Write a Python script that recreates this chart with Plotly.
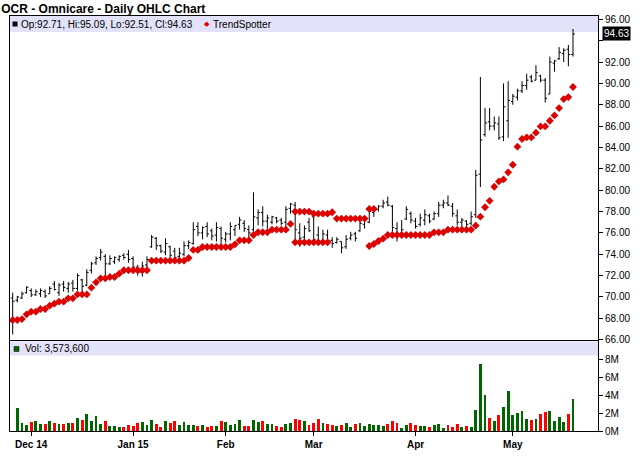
import pandas as pd
import plotly.graph_objects as go

# trading days 24 Nov 2014 .. 20 May 2015
holidays = ["2014-11-27", "2014-12-25", "2015-01-01", "2015-01-19", "2015-02-16", "2015-04-03"]
dates = pd.bdate_range("2014-11-24", "2015-05-20", freq="C", holidays=holidays).strftime("%Y-%m-%d").tolist()

month_ticks = ["2014-12-01", "2015-01-02", "2015-02-02", "2015-03-02", "2015-04-01", "2015-05-01"]
month_labels = ["Dec 14", "Jan 15", "Feb", "Mar", "Apr", "May"]

opens = [69.9, 69.7, 69.9, 70.4, 70.6, 70.2, 70.3, 70.5, 70.3, 71.2,
         70.4, 71.2, 70.8, 71.3, 70.8, 71.6, 71.1, 72.5, 73.2, 73.7,
         73.8, 73.1, 73.3, 73.5, 73.9, 74.0, 73.6, 72.8, 72.3, 73.0,
         74.7, 75.5, 74.8, 74.2, 74.7, 74.3, 73.8, 74.0, 74.8, 75.0,
         76.6, 76.0, 76.6, 76.2, 75.8, 76.4, 75.4, 75.9, 76.3, 76.8,
         76.9, 76.3, 76.3, 77.4, 77.9, 77.1, 77.0, 77.4, 77.2, 77.0,
         78.3, 78.6, 76.0, 75.6, 77.0, 77.5, 75.8, 75.2, 75.8, 75.3,
         75.1, 75.2, 74.7, 75.5, 75.9, 76.2, 76.8, 77.0, 77.9, 78.2,
         78.5, 78.9, 78.5, 76.4, 75.9, 77.3, 77.8, 77.1, 76.8, 77.2,
         77.6, 77.3, 77.8, 78.6, 78.8, 78.5, 77.6, 77.0, 77.1, 76.9,
         77.7, 81.5, 85.2, 86.4, 86.0, 86.2, 85.0, 86.5, 88.3, 88.7,
         89.3, 89.8, 90.6, 90.3, 90.7, 90.3, 89.0, 91.9, 92.3, 92.8,
         93.2, 92.71]
highs = [70.4, 70.1, 70.5, 71.0, 70.8, 70.7, 70.8, 70.7, 71.0, 71.5,
         71.3, 71.5, 71.4, 71.6, 72.2, 71.7, 72.6, 73.3, 73.8, 74.5,
         74.0, 73.9, 73.8, 73.9, 74.1, 74.4, 73.8, 73.0, 73.3, 73.8,
         75.8, 75.6, 74.9, 75.5, 74.8, 74.6, 74.6, 75.2, 75.3, 77.0,
         77.0, 76.6, 77.0, 76.4, 77.0, 76.6, 76.1, 77.0, 76.7, 77.5,
         77.2, 76.7, 79.8, 78.2, 78.5, 77.7, 77.6, 77.5, 77.4, 78.5,
         78.8, 78.9, 76.9, 76.7, 77.4, 78.1, 76.6, 76.3, 76.3, 75.6,
         75.6, 75.2, 75.8, 76.1, 76.1, 77.2, 77.5, 78.3, 78.5, 78.6,
         79.1, 79.4, 78.6, 77.0, 77.2, 78.5, 78.0, 77.4, 77.8, 78.2,
         77.8, 78.0, 78.9, 79.1, 79.5, 78.8, 78.2, 77.4, 77.2, 78.0,
         81.9, 90.6, 87.7, 87.7, 86.9, 86.9, 90.0, 90.2, 89.0, 89.5,
         90.2, 90.9, 90.8, 91.7, 90.8, 90.5, 92.5, 92.2, 93.4, 93.3,
         93.6, 95.09]
lows = [66.5, 69.5, 69.8, 70.3, 70.0, 70.1, 70.0, 69.9, 70.3, 70.6,
        70.1, 70.5, 70.4, 70.5, 70.6, 70.5, 71.0, 72.2, 73.0, 73.4,
        71.7, 73.0, 73.1, 73.3, 73.5, 73.2, 72.5, 72.0, 71.9, 72.8,
        74.6, 74.4, 74.1, 73.9, 73.7, 73.4, 73.1, 73.8, 74.5, 74.9,
        75.7, 75.4, 75.6, 75.3, 75.2, 75.0, 75.1, 75.3, 75.7, 76.3,
        76.1, 75.4, 76.1, 76.7, 76.6, 76.4, 76.8, 76.9, 76.7, 76.4,
        77.8, 75.2, 74.7, 75.3, 76.1, 75.0, 75.0, 75.0, 74.9, 74.6,
        75.0, 74.1, 74.5, 75.3, 75.2, 76.1, 76.4, 76.9, 77.5, 78.0,
        78.3, 78.5, 76.1, 75.2, 75.6, 77.2, 76.9, 76.4, 76.6, 76.7,
        76.9, 77.2, 77.5, 78.3, 78.5, 77.5, 76.7, 76.6, 76.3, 76.7,
        77.4, 80.3, 85.0, 85.6, 85.6, 84.7, 84.6, 84.9, 88.0, 88.4,
        89.1, 89.4, 90.1, 90.3, 90.1, 88.2, 89.0, 91.1, 92.2, 92.0,
        91.6, 92.51]
closes = [69.6, 70.0, 70.3, 70.9, 70.2, 70.5, 70.6, 70.1, 70.8, 70.7,
          71.1, 70.9, 71.2, 70.8, 72.0, 71.0, 72.3, 73.1, 73.6, 74.2,
          73.1, 73.6, 73.7, 73.8, 73.7, 73.5, 72.8, 72.3, 72.9, 73.5,
          75.6, 74.8, 74.3, 75.0, 73.9, 73.7, 74.1, 74.8, 75.1, 76.3,
          76.0, 76.5, 75.9, 75.7, 76.5, 75.5, 75.9, 76.6, 76.7, 77.2,
          76.4, 76.0, 77.5, 77.9, 77.1, 77.4, 77.5, 77.1, 76.9, 78.2,
          78.7, 76.3, 75.5, 76.4, 76.2, 75.4, 75.2, 75.9, 75.3, 75.0,
          75.4, 74.6, 75.4, 75.8, 75.5, 76.9, 77.3, 78.0, 78.3, 78.5,
          78.8, 78.6, 76.5, 75.9, 76.3, 78.2, 77.2, 76.6, 77.4, 77.7,
          77.1, 77.8, 78.6, 78.8, 78.6, 77.8, 77.0, 77.2, 76.8, 77.5,
          81.4, 84.7, 86.3, 86.0, 86.3, 84.9, 87.8, 88.4, 88.8, 89.3,
          89.8, 90.3, 90.2, 91.0, 90.3, 88.6, 92.0, 92.1, 92.9, 93.1,
          92.7, 94.63]

# volume in millions of shares
volumes = [None, 2.56, 0.81, 0.59, 0.93, 1.04, 0.70, 0.70, 1.04, 0.81,
           0.70, 0.70, 0.81, 0.81, 1.41, 1.15, 1.81, 1.04, 1.59, 0.70,
           1.04, 0.48, 0.48, 0.37, 0.37, 0.59, 0.48, 0.81, 0.93, 0.59,
           1.15, 0.70, 0.37, 1.04, 0.81, 1.04, 0.59, 0.93, 0.59, 0.59,
           0.48, 0.59, 0.37, 0.48, 0.48, 1.04, 0.93, 0.59, 0.70, 1.19,
           0.48, 0.48, 1.19, 0.93, 1.04, 0.70, 0.70, 0.48, 0.37, 0.70,
           0.81, 1.33, 1.22, 1.11, 0.59, 0.81, 1.33, 0.81, 0.70, 0.59,
           0.48, 0.59, 0.81, 0.37, 0.70, 0.81, 0.48, 0.70, 0.59, 0.59,
           0.48, 0.70, 1.04, 0.81, 0.26, 0.59, 0.81, 0.59, 0.48, 0.48,
           0.37, 0.59, 0.70, 0.26, 0.59, 0.37, 0.70, 0.37, 0.48, 0.37,
           2.33, 7.44, 3.93, 1.41, 1.11, 1.70, 2.63, 4.37, 1.70, 1.93,
           2.22, 1.30, 1.22, 1.30, 1.81, 2.11, 2.22, 1.11, 1.52, 0.93,
           1.81, 3.5736]

trend = [67.84, 67.84, 67.93, 68.37, 68.62, 68.62, 68.87, 68.87, 69.18, 69.37,
         69.56, 69.56, 69.87, 69.87, 70.24, 70.24, 70.24, 70.87, 71.37, 71.74,
         71.74, 71.87, 71.87, 72.18, 72.50, 72.50, 72.50, 72.50, 72.50, 72.50,
         73.40, 73.40, 73.40, 73.40, 73.40, 73.40, 73.40, 73.40, 73.65, 74.40,
         74.40, 74.68, 74.68, 74.68, 74.68, 74.68, 74.68, 74.68, 74.93, 75.30,
         75.30, 75.30, 75.80, 76.06, 76.06, 76.06, 76.30, 76.30, 76.30, 76.30,
         76.84, 75.12, 75.12, 75.12, 75.12, 75.12, 75.12, 75.12, 75.12, 77.93,
         77.34, 77.34, 77.34, 77.34, 77.34, 77.34, 77.34, 74.77, 74.96, 75.24,
         75.46, 75.80, 75.80, 75.80, 75.80, 75.80, 75.80, 75.80, 75.80, 75.80,
         75.80, 76.05, 76.05, 76.05, 76.30, 76.30, 76.30, 76.30, 76.30, 76.30,
         76.68, 77.52, 78.40, 79.00, 80.32, 80.82, 81.01, 81.67, 82.38, 84.07,
         84.79, 84.94, 84.94, 85.38, 85.97, 85.97, 86.50, 87.00, 87.69, 88.53,
         88.72, 89.66]
alt_dates = ["2015-02-24", "2015-02-25", "2015-02-26", "2015-02-27", "2015-03-02",
             "2015-03-03", "2015-03-04", "2015-03-05", "2015-03-18", "2015-03-19"]
alt_trend = [78.0, 78.0, 78.0, 78.0, 77.8, 77.8, 77.8, 77.8, 78.24, 78.24]

price_ticks = [66, 68, 70, 72, 74, 76, 78, 80, 82, 84, 86, 88, 90, 92, 94, 96]
vol_ticks = [0, 2, 4, 6, 8]

FONT = "Liberation Sans, Arial, sans-serif"
GREEN, RED, DOT = "#006600", "#ff0000", "#dd0000"

prev = [None] + closes[:-1]
vol_colors = [GREEN if p is None or c >= p else RED for p, c in zip(prev, closes)]

fig = go.Figure()
fig.add_trace(go.Ohlc(
    x=dates, open=opens, high=highs, low=lows, close=closes,
    increasing=dict(line=dict(color="black", width=1)),
    decreasing=dict(line=dict(color="black", width=1)),
    tickwidth=0.4, xaxis="x", yaxis="y", showlegend=False))
fig.add_trace(go.Scatter(
    x=dates, y=trend, mode="markers", xaxis="x", yaxis="y", showlegend=False,
    marker=dict(symbol="diamond", size=6, color=DOT)))
fig.add_trace(go.Scatter(
    x=alt_dates, y=alt_trend, mode="markers", xaxis="x", yaxis="y", showlegend=False,
    marker=dict(symbol="diamond", size=6, color=DOT)))
fig.add_trace(go.Bar(
    x=dates, y=volumes, marker=dict(color=vol_colors, line=dict(width=0)),
    width=0.62, xaxis="x2", yaxis="y2", showlegend=False))

axis_common = dict(showline=True, mirror=True, linecolor="black", linewidth=1,
                   showgrid=False, zeroline=False)

fig.update_layout(
    width=640, height=468,
    margin=dict(l=10, r=42, t=16, b=37),
    paper_bgcolor="white", plot_bgcolor="white",
    font=dict(family=FONT, size=10, color="black"),
    title=dict(text="<b>OCR - Omnicare - Daily OHLC Chart</b>", x=0.002, xanchor="left",
               y=1 - 8.5 / 468, yanchor="middle", xref="container", yref="container",
               font=dict(family=FONT, size=12, color="black")),
    bargap=0,
    xaxis=dict(type="category", domain=[0, 1], anchor="y", range=[-0.58, 126.4],
               showticklabels=False, ticks="", rangeslider=dict(visible=False), **axis_common),
    xaxis2=dict(type="category", domain=[0, 1], anchor="y2", matches="x",
                tickvals=month_ticks, ticktext=month_labels, ticks="outside", ticklen=4,
                tickcolor="black", tickfont=dict(size=10, weight="bold"), **axis_common),
    yaxis=dict(domain=[0.2193, 1], anchor="x", side="right", range=[65.97, 96.31],
               tickvals=price_ticks,
               ticktext=["" if v == 94 else f"{v:.2f}" for v in price_ticks],
               ticks="outside", ticklen=4, tickcolor="black", tickfont=dict(size=10),
               **axis_common),
    yaxis2=dict(domain=[0, 0.2157], anchor="x2", side="right", range=[0, 10],
                tickvals=vol_ticks, ticktext=[f"{v}M" for v in vol_ticks],
                ticks="outside", ticklen=4, tickcolor="black", tickfont=dict(size=10),
                **axis_common),
)

# lavender legend bands at the top of each panel
fig.add_shape(type="rect", xref="x domain", yref="y domain", x0=0, x1=1,
              y0=1 - 16 / 324, y1=1, fillcolor="#e2e2f8", line_width=0, layer="below")
fig.add_shape(type="rect", xref="x2 domain", yref="y2 domain", x0=0, x1=1,
              y0=1 - 14 / 89.5, y1=1, fillcolor="#e2e2f8", line_width=0, layer="below")

# legend squares
fig.add_shape(type="rect", xref="paper", yref="paper", xsizemode="pixel", ysizemode="pixel",
              xanchor=0, yanchor=1, x0=2.5, x1=7.5, y0=-10.5, y1=-5.5,
              fillcolor="black", line_width=0)
fig.add_shape(type="rect", xref="paper", yref="y2 domain", xsizemode="pixel", ysizemode="pixel",
              xanchor=0, yanchor=1, x0=4, x1=9, y0=-10, y1=-5,
              fillcolor=GREEN, line=dict(color="black", width=0.5))

fig.add_annotation(text="Op:92.71, Hi:95.09, Lo:92.51, Cl:94.63", xref="paper", yref="paper",
                   x=0, y=1, xshift=9, yshift=-8, xanchor="left", yanchor="middle",
                   showarrow=False, font=dict(size=10))
fig.add_annotation(text="◆", xref="paper", yref="paper", x=0, y=1, xshift=197, yshift=-8,
                   xanchor="center", yanchor="middle", showarrow=False,
                   font=dict(size=7, color=DOT, family="DejaVu Sans"))
fig.add_annotation(text="TrendSpotter", xref="paper", yref="paper", x=0, y=1, xshift=201,
                   yshift=-8, xanchor="left", yanchor="middle", showarrow=False,
                   font=dict(size=10))
fig.add_annotation(text="Vol: 3,573,600", xref="paper", yref="y2 domain", x=0, y=1,
                   xshift=13, yshift=-7.5, xanchor="left", yanchor="middle",
                   showarrow=False, font=dict(size=10))
fig.add_annotation(text="94.63", xref="paper", yref="y", x=1, y=closes[-1], xshift=4,
                   xanchor="left", yanchor="middle", showarrow=False, bgcolor="black",
                   borderpad=1, font=dict(size=10, color="white"))

# the page's default 8px body margin would push the chart off its 640x468 frame
fig.write_html("out.html", config={"displayModeBar": False},
               post_script="document.body.style.margin = '0';")
